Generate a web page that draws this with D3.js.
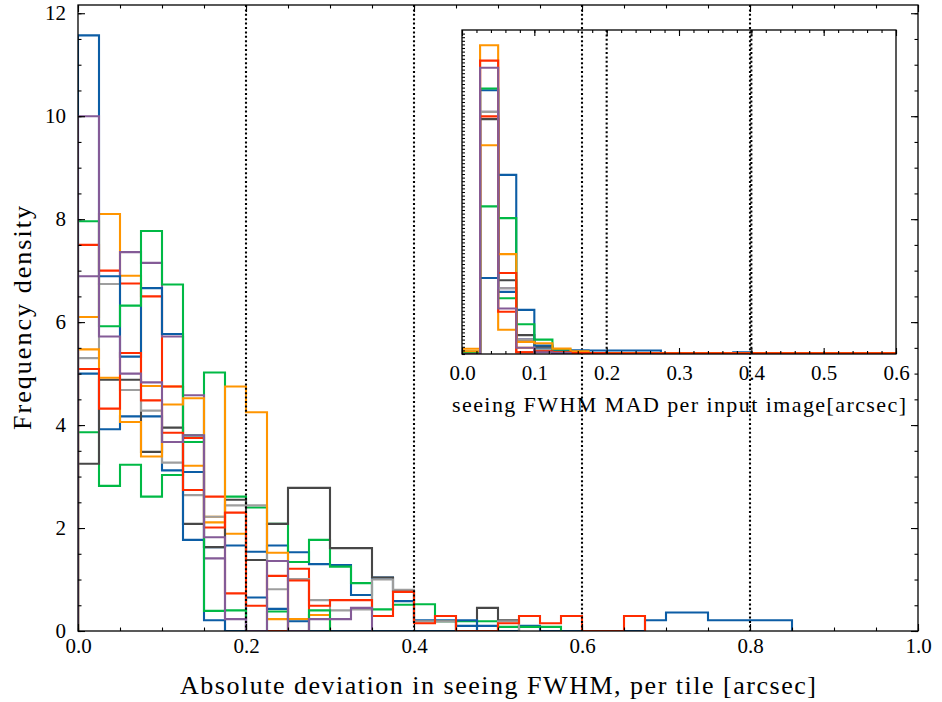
<!DOCTYPE html>
<html>
<head>
<meta charset="utf-8">
<script src="https://cdn.jsdelivr.net/npm/d3@7"></script>
<style>
  body { margin: 0; background: #fff; }
  svg { display: block; }
  text { font-family: "Liberation Serif", "Times New Roman", serif; fill: #000; }
</style>
</head>
<body>
<svg id="chart" width="942" height="702"></svg>
<script>
// Colour cycle (repeats after seven series)
const palette = ["#0C5DA5", "#00B945", "#FF9500", "#FF2C00", "#845B97", "#474747", "#9e9e9e"];

// Main panel: density per 0.025 arcsec bin, starting at 0
const mainBinWidth = 0.025;
const mainS1  = [5.0, 3.92, 4.17, 4.17, 3.12, 3.09, 1.63, 1.66, 1.54, 1.66, 1.53, 1.30, 1.28, 0.70, 1.04, 0.58, 0.21, 0.21, 0.10, 0.10, 0, 0.10, 0, 0, 0, 0, 0, 0.21, 0.36, 0.36, 0.21, 0.21, 0.21, 0.21];
const mainS2  = [3.86, 2.82, 3.23, 2.61, 3.03, 3.67, 5.02, 2.61, 2.40, 2.08, 1.34, 1.77, 1.25, 0.93, 0.42, 0.51, 0.52, 0.19, 0.19, 0.19, 0.08, 0.08, 0.08];
const mainS3  = [6.10, 8.10, 6.90, 4.76, 4.75, 3.21, 2.22, 1.89, 1.38, 0.23, 0.23, 0.31];
const mainS4  = [7.50, 7.00, 6.75, 6.50, 4.75, 3.75, 2.61, 0.73, 0, 0, 1.21];
const mainS5  = [6.89, 6.74, 7.36, 7.15, 5.72, 4.58, 1.41];
const mainS6  = [3.25, 4.88, 4.88, 3.48, 3.95, 2.08, 1.63, 2.55, 1.38, 2.08, 2.78, 2.78, 1.61, 1.61, 1.04, 0.78, 0.19, 0.19, 0, 0.45, 0.21];
const mainS7  = [5.30, 6.74, 4.68, 4.28, 3.27, 2.64, 2.22, 2.44, 2.44, 0.81, 1.01, 0.60, 0.40, 0.42, 1.00, 0.80, 0.19, 0.19, 0, 0, 0.19];
const mainS8  = [11.57, 6.89, 5.33, 6.66, 5.77, 1.77, 0.21, 0, 0.65, 0.43, 0.19, 0, 0, 0, 0, 0, 0, 0, 0.21];
const mainS9  = [7.96, 5.92, 6.32, 7.77, 6.73, 3.80, 0.39, 0.40, 0, 0.38, 0, 0.40];
const mainS10 = [5.47, 4.92, 4.06, 3.39, 4.40, 4.52, 2.11, 4.75, 4.25, 1.52];
const mainS11 = [5.09, 4.32, 5.40, 4.48, 3.85, 2.74, 2.01, 2.30, 0.49, 1.07, 0.98, 0.49, 0.60, 0.60, 0.29, 0.76, 0.15, 0.29, 0, 0, 0.15, 0.29, 0.15, 0.29, 0, 0, 0.29];
const mainS12 = [10.0, 5.72, 5.00, 4.83, 3.67, 3.80, 1.82, 0.23, 0, 1.36, 0, 0.23, 0.23, 0.45];

// Inset panel: density per 0.025 arcsec bin of the per-image MAD
const insetBinWidth = 0.025;
const insetS1  = [0.2, 29.3, 6.9, 1.6, 0.6, 0.2, 0.1, 0.1, 0.1, 0.05, 0.05, 0.05];
const insetS2  = [0.25, 29.5, 6.2, 1.35, 0.4, 0.2, 0.2, 0.1, 0.05];
const insetS3  = [0.58, 34.3, 2.7, 0.7, 0.3, 0.1, 0.1, 0.05];
const insetS4  = [0, 32.6, 4.7, 0.2, 0.3, 0.2, 0.1, 0.05];
const insetS5  = [0, 26.9, 7.3, 1.6, 0.4, 0.1];
const insetS6  = [0, 26.1, 8.2, 2.1, 0.8, 0.3, 0.1, 0.05, 0.05, 0.05, 0.05, 0.05, 0.05, 0.05, 0.05, 0.1];
const insetS7  = [0, 26.9, 7.3, 1.6, 0.5, 0.2, 0.1, 0.1, 0.05, 0.05, 0.05, 0.05, 0.05, 0.05, 0.05, 0.05, 0.05, 0.05, 0.05, 0.05];
const insetS8  = [0, 8.45, 19.9, 4.9, 0.95, 0.42, 0.42, 0.39, 0.39, 0.39, 0.39, 0.08, 0.08, 0.08, 0.08, 0.2, 0.05, 0.05];
const insetS9  = [0.25, 16.4, 15.1, 3.3, 1.6, 0.5, 0.2, 0.1, 0.1, 0.05];
const insetS10 = [0.3, 23.2, 11.1, 1.35, 1.2, 0.6, 0.3, 0.1, 0.1, 0.1, 0.1, 0.1, 0.1, 0.1, 0.1, 0.1, 0.1, 0.1, 0.1, 0.1, 0.1, 0.1, 0.1, 0.1];
const insetS11 = [0, 26.4, 9.0, 0.2, 0.3, 0.2, 0.1, 0.1, 0.08, 0.08, 0.08, 0.08, 0.08, 0.08, 0.08, 0.08, 0.08, 0.08, 0.08, 0.08, 0.08, 0.08, 0.08, 0.08];
const insetS12 = [0, 31.8, 5.06, 0.7, 0.2, 0.1];

// Axis ticks and labels
const mainXTicks = [0, 0.2, 0.4, 0.6, 0.8, 1.0];
const mainYTicks = [0, 2, 4, 6, 8, 10, 12];
const mainGridX = [0.2, 0.4, 0.6, 0.8];
const insetXTicks = [0, 0.1, 0.2, 0.3, 0.4, 0.5, 0.6];
const insetGridX = [0.2, 0.4];
const mainXLabel = "Absolute deviation in seeing FWHM, per tile [arcsec]";
const mainYLabel = "Frequency density";
const insetXLabel = "seeing FWHM MAD per input image[arcsec]";

const mainSeries = [mainS1, mainS2, mainS3, mainS4, mainS5, mainS6, mainS7, mainS8, mainS9, mainS10, mainS11, mainS12];
const insetSeries = [insetS1, insetS2, insetS3, insetS4, insetS5, insetS6, insetS7, insetS8, insetS9, insetS10, insetS11, insetS12];

const tickFont = 21;
const svg = d3.select("#chart");

// ---------- main panel ----------
const M = { left: 78, right: 918, top: 5, bottom: 631 };
const x = d3.scaleLinear().domain([0, 1.0]).range([M.left, M.right]);
const y = d3.scaleLinear().domain([0, 12.16]).range([M.bottom, M.top]);

const defs = svg.append("defs");
defs.append("clipPath").attr("id", "mainClip")
  .append("rect").attr("x", M.left).attr("y", M.top)
  .attr("width", M.right - M.left).attr("height", M.bottom - M.top);

// Step outline of a histogram, starting and ending on the baseline
function stepPoints(values, width) {
  const pts = [{ x: 0, v: 0 }];
  values.forEach((v, i) => {
    pts.push({ x: i * width, v: v });
    pts.push({ x: (i + 1) * width, v: v });
  });
  pts.push({ x: values.length * width, v: 0 });
  return pts;
}

const mainLine = d3.line().x(d => x(d.x)).y(d => y(d.v));
const mainHist = svg.append("g").attr("clip-path", "url(#mainClip)");
mainSeries.forEach((vals, i) => {
  mainHist.append("path")
    .attr("d", mainLine(stepPoints(vals, mainBinWidth)))
    .attr("fill", "none")
    .attr("stroke", palette[i % palette.length])
    .attr("stroke-width", 2.1)
    .attr("stroke-linejoin", "miter");
});

// dotted vertical grid
function dottedGrid(scale, values, top, bottom) {
  svg.append("g").selectAll("line").data(values).join("line")
    .attr("x1", d => scale(d)).attr("x2", d => scale(d))
    .attr("y1", top).attr("y2", bottom)
    .attr("stroke", "#000").attr("stroke-width", 2.1)
    .attr("stroke-dasharray", "2,2.4");
}
dottedGrid(x, mainGridX, M.top, M.bottom);

function styleAxis(g) {
  g.select(".domain").remove();
  g.selectAll(".tick line").attr("stroke", "#000").attr("stroke-width", 1.1);
  g.selectAll("text").attr("font-size", tickFont).attr("font-family", "Liberation Serif");
}

// minor ticks
svg.append("g").attr("transform", `translate(0,${M.bottom})`)
  .call(d3.axisBottom(x).tickValues(d3.range(0, 1.0001, 0.05)).tickSize(-3.5).tickFormat(""))
  .call(styleAxis);
svg.append("g").attr("transform", `translate(0,${M.top})`)
  .call(d3.axisTop(x).tickValues(d3.range(0, 1.0001, 0.05)).tickSize(-3.5).tickFormat(""))
  .call(styleAxis);
svg.append("g").attr("transform", `translate(${M.left},0)`)
  .call(d3.axisLeft(y).tickValues(d3.range(0, 12.01, 0.5)).tickSize(-3.5).tickFormat(""))
  .call(styleAxis);
svg.append("g").attr("transform", `translate(${M.right},0)`)
  .call(d3.axisRight(y).tickValues(d3.range(0, 12.01, 0.5)).tickSize(-3.5).tickFormat(""))
  .call(styleAxis);

// major ticks with labels
svg.append("g").attr("transform", `translate(0,${M.bottom})`)
  .call(d3.axisBottom(x).tickValues(mainXTicks).tickSize(-7).tickPadding(7).tickFormat(d3.format(".1f")))
  .call(styleAxis);
svg.append("g").attr("transform", `translate(0,${M.top})`)
  .call(d3.axisTop(x).tickValues(mainXTicks).tickSize(-7).tickFormat(""))
  .call(styleAxis);
svg.append("g").attr("transform", `translate(${M.left},0)`)
  .call(d3.axisLeft(y).tickValues(mainYTicks).tickSize(-7).tickPadding(12).tickFormat(d3.format("d")))
  .call(styleAxis);
svg.append("g").attr("transform", `translate(${M.right},0)`)
  .call(d3.axisRight(y).tickValues(mainYTicks).tickSize(-7).tickFormat(""))
  .call(styleAxis);

// frame
svg.append("rect").attr("x", M.left).attr("y", M.top)
  .attr("width", M.right - M.left).attr("height", M.bottom - M.top)
  .attr("fill", "none").attr("stroke", "#000").attr("stroke-width", 1.3);

// axis titles
svg.append("text").attr("x", (M.left + M.right) / 2).attr("y", 694)
  .attr("text-anchor", "middle").attr("font-size", 26)
  .attr("textLength", 636).attr("lengthAdjust", "spacing").text(mainXLabel);
svg.append("text").attr("transform", `translate(31,${(M.top + M.bottom) / 2}) rotate(-90)`)
  .attr("text-anchor", "middle").attr("font-size", 26)
  .attr("textLength", 224).attr("lengthAdjust", "spacing").text(mainYLabel);

// ---------- inset panel ----------
const I = { left: 462, right: 896, top: 30, bottom: 354 };
const xi = d3.scaleLinear().domain([0, 0.6]).range([I.left, I.right]);
const yi = d3.scaleLinear().domain([0, 36]).range([I.bottom, I.top]);

defs.append("clipPath").attr("id", "insetClip")
  .append("rect").attr("x", I.left).attr("y", I.top)
  .attr("width", I.right - I.left).attr("height", I.bottom - I.top);

const insetLine = d3.line().x(d => xi(d.x)).y(d => yi(d.v));
const insetHist = svg.append("g").attr("clip-path", "url(#insetClip)");
insetSeries.forEach((vals, i) => {
  insetHist.append("path")
    .attr("d", insetLine(stepPoints(vals, insetBinWidth)))
    .attr("fill", "none")
    .attr("stroke", palette[i % palette.length])
    .attr("stroke-width", 2.1);
});

dottedGrid(xi, insetGridX, I.top, I.bottom);

svg.append("g").attr("transform", `translate(0,${I.bottom})`)
  .call(d3.axisBottom(xi).tickValues(d3.range(0, 0.6001, 0.02)).tickSize(-3).tickFormat(""))
  .call(styleAxis);
svg.append("g").attr("transform", `translate(0,${I.top})`)
  .call(d3.axisTop(xi).tickValues(d3.range(0, 0.6001, 0.02)).tickSize(-3).tickFormat(""))
  .call(styleAxis);
svg.append("g").attr("transform", `translate(0,${I.bottom})`)
  .call(d3.axisBottom(xi).tickValues(insetXTicks).tickSize(-6).tickPadding(11).tickFormat(d3.format(".1f")))
  .call(styleAxis);
svg.append("g").attr("transform", `translate(0,${I.top})`)
  .call(d3.axisTop(xi).tickValues(insetXTicks).tickSize(-6).tickFormat(""))
  .call(styleAxis);
svg.append("g").attr("transform", `translate(${I.left},0)`)
  .call(d3.axisLeft(yi).tickValues(d3.range(0, 36, 0.4)).tickSize(-3).tickFormat(""))
  .call(styleAxis);

svg.append("rect").attr("x", I.left).attr("y", I.top)
  .attr("width", I.right - I.left).attr("height", I.bottom - I.top)
  .attr("fill", "none").attr("stroke", "#000").attr("stroke-width", 1.3);

svg.append("text").attr("x", (I.left + I.right) / 2).attr("y", 412)
  .attr("text-anchor", "middle").attr("font-size", 22)
  .attr("textLength", 454).attr("lengthAdjust", "spacing").text(insetXLabel);
</script>
</body>
</html>
